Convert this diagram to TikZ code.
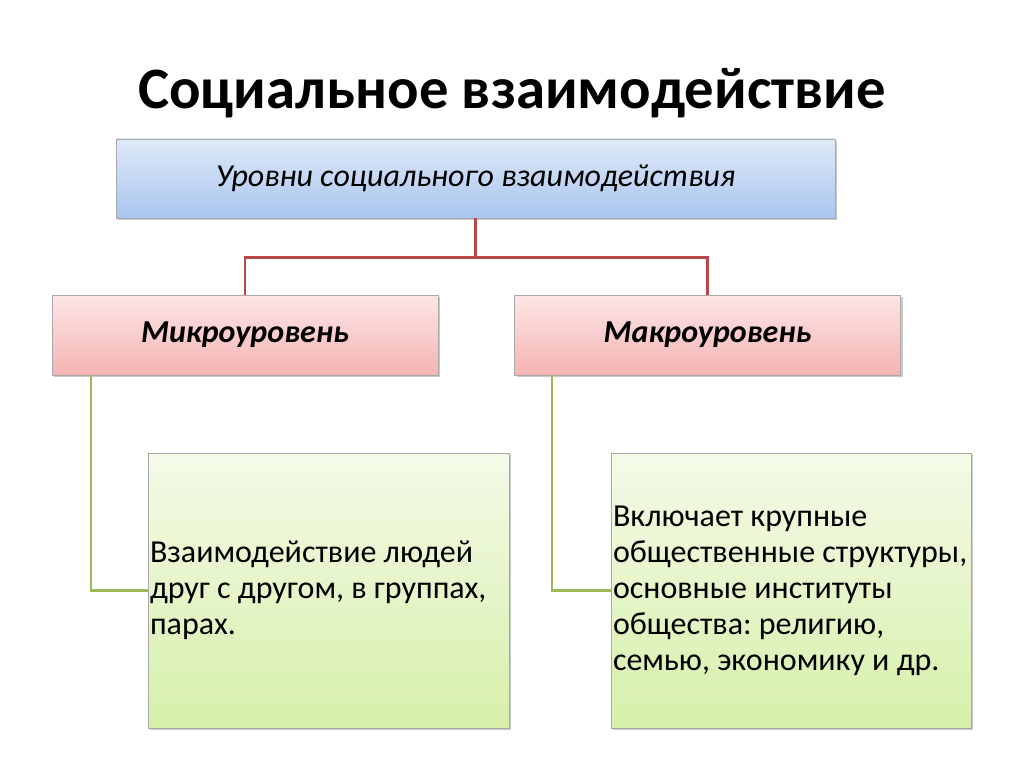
\documentclass[tikz,border=0pt]{standalone}
\usepackage{fontspec}
\setmainfont{Carlito}
\frenchspacing
\usetikzlibrary{shadows}
\definecolor{blueTop}{HTML}{DFE9F8}
\definecolor{blueBot}{HTML}{A9C5EF}
\definecolor{pinkTop}{HTML}{FDE6E6}
\definecolor{pinkBot}{HTML}{F5B3B3}
\definecolor{greenTop}{HTML}{F4FAE8}
\definecolor{greenBot}{HTML}{D6F0AA}
\definecolor{redLine}{HTML}{B8474A}
\definecolor{greenLine}{HTML}{9BBB59}
\definecolor{boxEdge}{HTML}{A8A8A8}
\begin{document}
\begin{tikzpicture}[x=1pt,y=-1pt,
  box/.style={rectangle, draw=boxEdge, line width=0.8pt, inner sep=2pt,
    drop shadow={shadow xshift=2pt, shadow yshift=-2pt, opacity=0.35, fill=black!60}},
  bluebox/.style={box, top color=blueTop, bottom color=blueBot,
    minimum width=719pt, minimum height=79pt, font=\fontsize{32}{38}\selectfont\itshape},
  pinkbox/.style={box, top color=pinkTop, bottom color=pinkBot,
    minimum width=386pt, minimum height=80pt, font=\fontsize{32}{38}\selectfont\bfseries\itshape},
  greenbox/.style={box, top color=greenTop, bottom color=greenBot,
    minimum height=275pt, text width=356pt, align=flush left,
    font=\fontsize{32}{36}\selectfont\frenchspacing},
  redconn/.style={draw=redLine, line width=2.2pt},
  greenconn/.style={draw=greenLine, line width=2.2pt}]
\useasboundingbox (0,0) rectangle (1024,767);
\fill[white] (0,0) rectangle (1024,767);

\node[font=\fontsize{58.7}{66}\selectfont\bfseries] (title) at (512,93) {Социальное взаимодействие};

\node[bluebox] (top) at (475.5,178.5) {Уровни социального взаимодействия};

\node[pinkbox] (micro) at (245,335) {Микроуровень};
\node[pinkbox] (macro) at (707.5,335) {Макроуровень};

\node[greenbox, text width=357pt] (gl) at (328.5,590.5) {Взаимодействие людей\\друг с другом, в группах,\\парах.};
\node[greenbox] (gr) at (791,590.5) {Включает крупные\\общественные структуры,\\основные институты\\общества: религию,\\семью, экономику и др.};

\coordinate (fork) at ([yshift=-39pt]top.south);
\draw[redconn] (top.south) -- (fork) -| (micro.north);
\draw[redconn] (fork) -| (macro.north);

\draw[greenconn] ([xshift=39pt]micro.south west) |- (gl.west);
\draw[greenconn] ([xshift=38pt]macro.south west) |- (gr.west);
\end{tikzpicture}
\end{document}
